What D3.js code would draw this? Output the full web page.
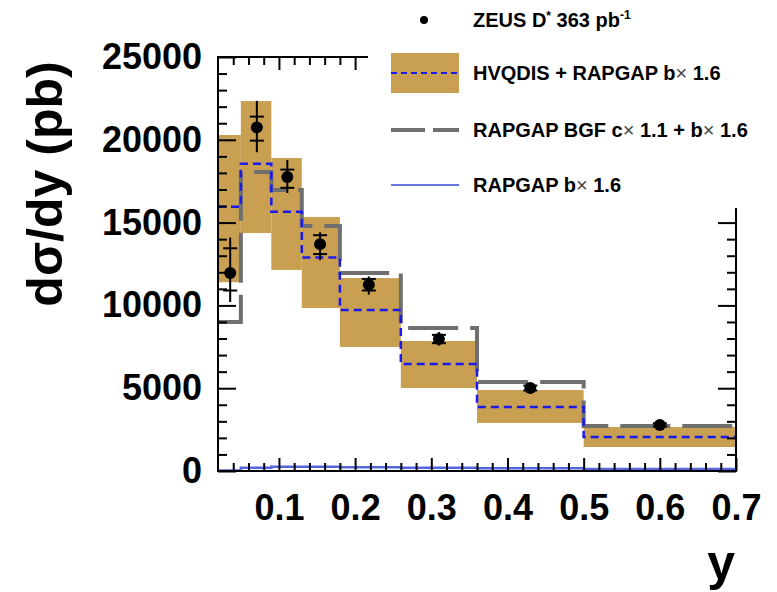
<!DOCTYPE html>
<html>
<head>
<meta charset="utf-8">
<script src="https://cdn.jsdelivr.net/npm/d3@7"></script>
<style>
  html, body { margin: 0; padding: 0; background: #fff; }
  svg { display: block; font-family: "Liberation Sans", Arial, Helvetica, sans-serif; font-weight: bold; }
</style>
</head>
<body>
<svg id="chart" width="777" height="592"></svg>
<script>
// y bin edges of the measurement
const binEdges = [0.02, 0.05, 0.09, 0.13, 0.18, 0.26, 0.36, 0.5, 0.7];

// ZEUS D* data: mean y of each bin, cross section and errors (pb)
const dataY     = [0.036, 0.071, 0.111, 0.154, 0.218, 0.31, 0.43, 0.60];
const dataXsec  = [11950, 20750, 17750, 13700, 11250, 7970, 5010, 2780];
const statUp    = [1500, 650, 450, 540, 350, 250, 150, 100];
const statDown  = [1050, 800, 650, 600, 350, 250, 150, 100];
const totUp     = [2150, 1600, 1030, 720, 500, 420, 250, 150];
const totDown   = [1750, 1500, 960, 970, 600, 400, 250, 150];

// HVQDIS + RAPGAP b x 1.6: central value and uncertainty band
const hvqdisCentral = [15950, 18550, 15650, 12900, 9720, 6460, 3870, 2050];
const hvqdisLow     = [11400, 14370, 12140, 9840, 7490, 5010, 2900, 1450];
const hvqdisHigh    = [20290, 22340, 18900, 15340, 11650, 7850, 4890, 2660];

// RAPGAP BGF c x 1.1 + b x 1.6
const rapgapBgf = [9000, 18050, 16970, 14800, 11950, 8630, 5370, 2720];

// RAPGAP b x 1.6 alone
const rapgapB = [30, 200, 250, 250, 230, 200, 160, 120];

// axis ticks
const xTicks = [0.1, 0.2, 0.3, 0.4, 0.5, 0.6, 0.7];
const yTicks = [0, 5000, 10000, 15000, 20000, 25000];

const svg = d3.select("#chart");

const x = d3.scaleLinear().domain([0.02, 0.7]).range([218, 736]);
const y = d3.scaleLinear().domain([0, 25000]).range([471, 57]);

const bandColor = "#c9a052";
const bins = d3.range(binEdges.length - 1);

// uncertainty band
svg.append("g").selectAll("rect")
  .data(bins)
  .join("rect")
  .attr("x", i => x(binEdges[i]))
  .attr("width", i => x(binEdges[i + 1]) - x(binEdges[i]))
  .attr("y", i => y(hvqdisHigh[i]))
  .attr("height", i => y(hvqdisLow[i]) - y(hvqdisHigh[i]))
  .attr("fill", bandColor);

// step outline of a binned prediction
function stepPath(values) {
  let p = d3.path();
  bins.forEach(i => {
    const x0 = x(binEdges[i]), x1 = x(binEdges[i + 1]), yy = y(values[i]);
    if (i === 0) p.moveTo(x0, yy); else p.lineTo(x0, yy);
    p.lineTo(x1, yy);
  });
  return p.toString();
}

svg.append("path")
  .attr("d", stepPath(rapgapB))
  .attr("fill", "none")
  .attr("stroke", "#5566dd")
  .attr("stroke-width", 2.5);

svg.append("path")
  .attr("d", stepPath(rapgapBgf))
  .attr("fill", "none")
  .attr("stroke", "#6f6f6f")
  .attr("stroke-width", 4)
  .attr("stroke-dasharray", "50,12");

svg.append("path")
  .attr("d", stepPath(hvqdisCentral))
  .attr("fill", "none")
  .attr("stroke", "#1a1aee")
  .attr("stroke-width", 2.5)
  .attr("stroke-dasharray", "8,5");

// data points with statistical (ticked) and total error bars
const pts = svg.append("g").selectAll("g")
  .data(bins)
  .join("g");

pts.append("line")
  .attr("x1", i => x(dataY[i])).attr("x2", i => x(dataY[i]))
  .attr("y1", i => y(dataXsec[i] + totUp[i]))
  .attr("y2", i => y(dataXsec[i] - totDown[i]))
  .attr("stroke", "#000").attr("stroke-width", 2);

pts.append("line")
  .attr("x1", i => x(dataY[i]) - 7).attr("x2", i => x(dataY[i]) + 7)
  .attr("y1", i => y(dataXsec[i] + statUp[i]))
  .attr("y2", i => y(dataXsec[i] + statUp[i]))
  .attr("stroke", "#000").attr("stroke-width", 2);

pts.append("line")
  .attr("x1", i => x(dataY[i]) - 7).attr("x2", i => x(dataY[i]) + 7)
  .attr("y1", i => y(dataXsec[i] - statDown[i]))
  .attr("y2", i => y(dataXsec[i] - statDown[i]))
  .attr("stroke", "#000").attr("stroke-width", 2);

pts.append("circle")
  .attr("cx", i => x(dataY[i]))
  .attr("cy", i => y(dataXsec[i]))
  .attr("r", 6)
  .attr("fill", "#000");

// axes and frame
const xMinor = d3.range(0.04, 0.701, 0.02).filter(v => Math.abs(v * 10 - Math.round(v * 10)) > 1e-6);
const yMinor = d3.range(0, 25001, 1000).filter(v => v % 5000 !== 0);

function styleAxis(g) {
  g.select(".domain").remove();
  g.selectAll("line").attr("stroke", "#000").attr("stroke-width", 2);
  g.selectAll("text")
    .attr("fill", "#000")
    .style("font-size", "36px")
    .style("font-weight", "bold")
    .style("font-family", "'Liberation Sans', Arial, sans-serif");
}

// left
svg.append("g").attr("transform", `translate(${x.range()[0]},0)`)
  .call(d3.axisLeft(y).tickValues(yTicks).tickSize(-18).tickPadding(16).tickFormat(d3.format("d")))
  .call(styleAxis);
svg.append("g").attr("transform", `translate(${x.range()[0]},0)`)
  .call(d3.axisLeft(y).tickValues(yMinor).tickSize(-9).tickFormat(""))
  .call(styleAxis);
// right
svg.append("g").attr("transform", `translate(${x.range()[1]},0)`)
  .call(d3.axisRight(y).tickValues(yTicks).tickSize(-18).tickFormat(""))
  .call(styleAxis);
svg.append("g").attr("transform", `translate(${x.range()[1]},0)`)
  .call(d3.axisRight(y).tickValues(yMinor).tickSize(-9).tickFormat(""))
  .call(styleAxis);
// bottom
svg.append("g").attr("transform", `translate(0,${y.range()[0]})`)
  .call(d3.axisBottom(x).tickValues(xTicks).tickSize(-13).tickPadding(23).tickFormat(d3.format(".1f")))
  .call(styleAxis);
svg.append("g").attr("transform", `translate(0,${y.range()[0]})`)
  .call(d3.axisBottom(x).tickValues(xMinor).tickSize(-8).tickFormat(""))
  .call(styleAxis);
// top
svg.append("g").attr("transform", `translate(0,${y.range()[1]})`)
  .call(d3.axisTop(x).tickValues(xTicks).tickSize(-13).tickFormat(""))
  .call(styleAxis);
svg.append("g").attr("transform", `translate(0,${y.range()[1]})`)
  .call(d3.axisTop(x).tickValues(xMinor).tickSize(-8).tickFormat(""))
  .call(styleAxis);

svg.append("rect")
  .attr("x", x.range()[0]).attr("y", y.range()[1])
  .attr("width", x.range()[1] - x.range()[0])
  .attr("height", y.range()[0] - y.range()[1])
  .attr("fill", "none").attr("stroke", "#000").attr("stroke-width", 2);

// axis titles
svg.append("text")
  .attr("transform", "translate(62,184) rotate(-90)")
  .attr("text-anchor", "middle")
  .style("font-size", "50px")
  .text("dσ/dy (pb)");

svg.append("text")
  .attr("x", 735).attr("y", 580)
  .attr("text-anchor", "end")
  .style("font-size", "50px")
  .text("y");

// legend
const leg = svg.append("g");
leg.append("rect").attr("x", 368).attr("y", 0).attr("width", 409).attr("height", 208).attr("fill", "#fff");

const lx0 = 391, lx1 = 459, tx = 473;
const legFont = "20px";

leg.append("circle").attr("cx", 424).attr("cy", 20).attr("r", 4).attr("fill", "#000");
const t0 = leg.append("text").attr("x", tx).attr("y", 27).style("font-size", legFont);
t0.append("tspan").text("ZEUS D");
t0.append("tspan").attr("dy", -7).style("font-size", "12px").text("*");
t0.append("tspan").attr("dy", 7).text(" 363 pb");
t0.append("tspan").attr("dy", -8).style("font-size", "12px").text("-1");

leg.append("rect").attr("x", lx0).attr("y", 53).attr("width", lx1 - lx0).attr("height", 40).attr("fill", bandColor);
leg.append("line").attr("x1", lx0).attr("x2", lx1).attr("y1", 73).attr("y2", 73)
  .attr("stroke", "#1a1aee").attr("stroke-width", 2).attr("stroke-dasharray", "6,4");
const t1 = leg.append("text").attr("x", tx).attr("y", 80).style("font-size", legFont);
t1.append("tspan").text("HVQDIS + RAPGAP b");
t1.append("tspan").style("font-weight", "normal").attr("fill", "#444").text("×");
t1.append("tspan").text(" 1.6");

leg.append("line").attr("x1", lx0).attr("x2", lx1).attr("y1", 130).attr("y2", 130)
  .attr("stroke", "#6f6f6f").attr("stroke-width", 4).attr("stroke-dasharray", "34,8");
const t2 = leg.append("text").attr("x", tx).attr("y", 137).style("font-size", legFont);
t2.append("tspan").text("RAPGAP BGF c");
t2.append("tspan").style("font-weight", "normal").attr("fill", "#444").text("×");
t2.append("tspan").text(" 1.1 + b");
t2.append("tspan").style("font-weight", "normal").attr("fill", "#444").text("×");
t2.append("tspan").text(" 1.6");

leg.append("line").attr("x1", lx0).attr("x2", lx1).attr("y1", 185).attr("y2", 185)
  .attr("stroke", "#6677dd").attr("stroke-width", 2);
const t3 = leg.append("text").attr("x", tx).attr("y", 192).style("font-size", legFont);
t3.append("tspan").text("RAPGAP b");
t3.append("tspan").style("font-weight", "normal").attr("fill", "#444").text("×");
t3.append("tspan").text(" 1.6");
</script>
</body>
</html>
